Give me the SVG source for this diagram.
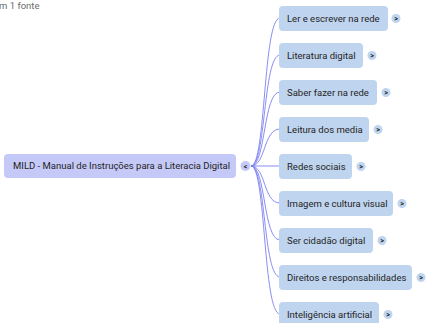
<svg xmlns="http://www.w3.org/2000/svg" width="427" height="323" viewBox="0 0 427 323">
<style>
text{font-family:Roboto,"Liberation Sans",sans-serif;fill:#1f1f1f;font-size:9.5px}
.hdr{fill:#6b6b6b;font-size:9.5px}
.root rect{fill:#c5c9f7}
.child rect.box{fill:#bfd4ee}
.tog{fill:#bfd4ee}
.rtog{fill:#c5c9f7}
.sym{font-size:7px;font-weight:bold;text-anchor:middle}
#connectors path{fill:none;stroke:#7c80ee;stroke-width:0.9}
</style>
<rect width="427" height="323" fill="#ffffff"/>
<text class="hdr" x="-1" y="9">m 1 fonte</text>
<g id="connectors">
<path d="M251 166 C266 166 263 18 280 18"/>
<path d="M251 166 C266 166 263 55 280 55"/>
<path d="M251 166 C266 166 263 92 280 92"/>
<path d="M251 166 C266 166 263 129 280 129"/>
<path d="M251 166 L280 166"/>
<path d="M251 166 C266 166 263 203 280 203"/>
<path d="M251 166 C266 166 263 240 280 240"/>
<path d="M251 166 C266 166 263 277 280 277"/>
<path d="M251 166 C266 166 263 314 280 314"/>
</g>
<g id="root" class="root">
<rect x="4" y="154" width="232" height="24" rx="4"/>
<text x="13" y="169.3">MILD - Manual de Instruções para a Literacia Digital</text>
<circle class="rtog" cx="245.5" cy="166" r="5"/>
<text class="sym" x="245.5" y="168.5">&lt;</text>
</g>
<g id="n1" class="child">
<rect class="box" x="279" y="6" width="109" height="25" rx="4"/>
<text x="287" y="21.8">Ler e escrever na rede</text>
<circle class="tog" cx="396" cy="18.5" r="4.5"/>
<text class="sym" x="396" y="21">&gt;</text>
</g>
<g id="n2" class="child">
<rect class="box" x="279" y="43" width="84" height="25" rx="4"/>
<text x="287" y="58.8">Literatura digital</text>
<circle class="tog" cx="372" cy="55.5" r="4.5"/>
<text class="sym" x="372" y="58">&gt;</text>
</g>
<g id="n3" class="child">
<rect class="box" x="279" y="80" width="98" height="25" rx="4"/>
<text x="287" y="95.8">Saber fazer na rede</text>
<circle class="tog" cx="386" cy="92.5" r="4.5"/>
<text class="sym" x="386" y="95">&gt;</text>
</g>
<g id="n4" class="child">
<rect class="box" x="279" y="117" width="90" height="25" rx="4"/>
<text x="287" y="132.8">Leitura dos media</text>
<circle class="tog" cx="378" cy="129.5" r="4.5"/>
<text class="sym" x="378" y="132">&gt;</text>
</g>
<g id="n5" class="child">
<rect class="box" x="279" y="154" width="73" height="25" rx="4"/>
<text x="287" y="169.8">Redes sociais</text>
<circle class="tog" cx="361" cy="166.5" r="4.5"/>
<text class="sym" x="361" y="169">&gt;</text>
</g>
<g id="n6" class="child">
<rect class="box" x="279" y="191" width="114" height="25" rx="4"/>
<text x="287" y="206.8">Imagem e cultura visual</text>
<circle class="tog" cx="402" cy="203.5" r="4.5"/>
<text class="sym" x="402" y="206">&gt;</text>
</g>
<g id="n7" class="child">
<rect class="box" x="279" y="228" width="94" height="25" rx="4"/>
<text x="287" y="243.8">Ser cidadão digital</text>
<circle class="tog" cx="382" cy="240.5" r="4.5"/>
<text class="sym" x="382" y="243">&gt;</text>
</g>
<g id="n8" class="child">
<rect class="box" x="279" y="265" width="133" height="25" rx="4"/>
<text x="287" y="280.8">Direitos e responsabilidades</text>
<circle class="tog" cx="421" cy="277.5" r="4.5"/>
<text class="sym" x="421" y="280">&gt;</text>
</g>
<g id="n9" class="child">
<rect class="box" x="279" y="302" width="100" height="25" rx="4"/>
<text x="287" y="317.8">Inteligência artificial</text>
<circle class="tog" cx="388" cy="314.5" r="4.5"/>
<text class="sym" x="388" y="317">&gt;</text>
</g>
</svg>
